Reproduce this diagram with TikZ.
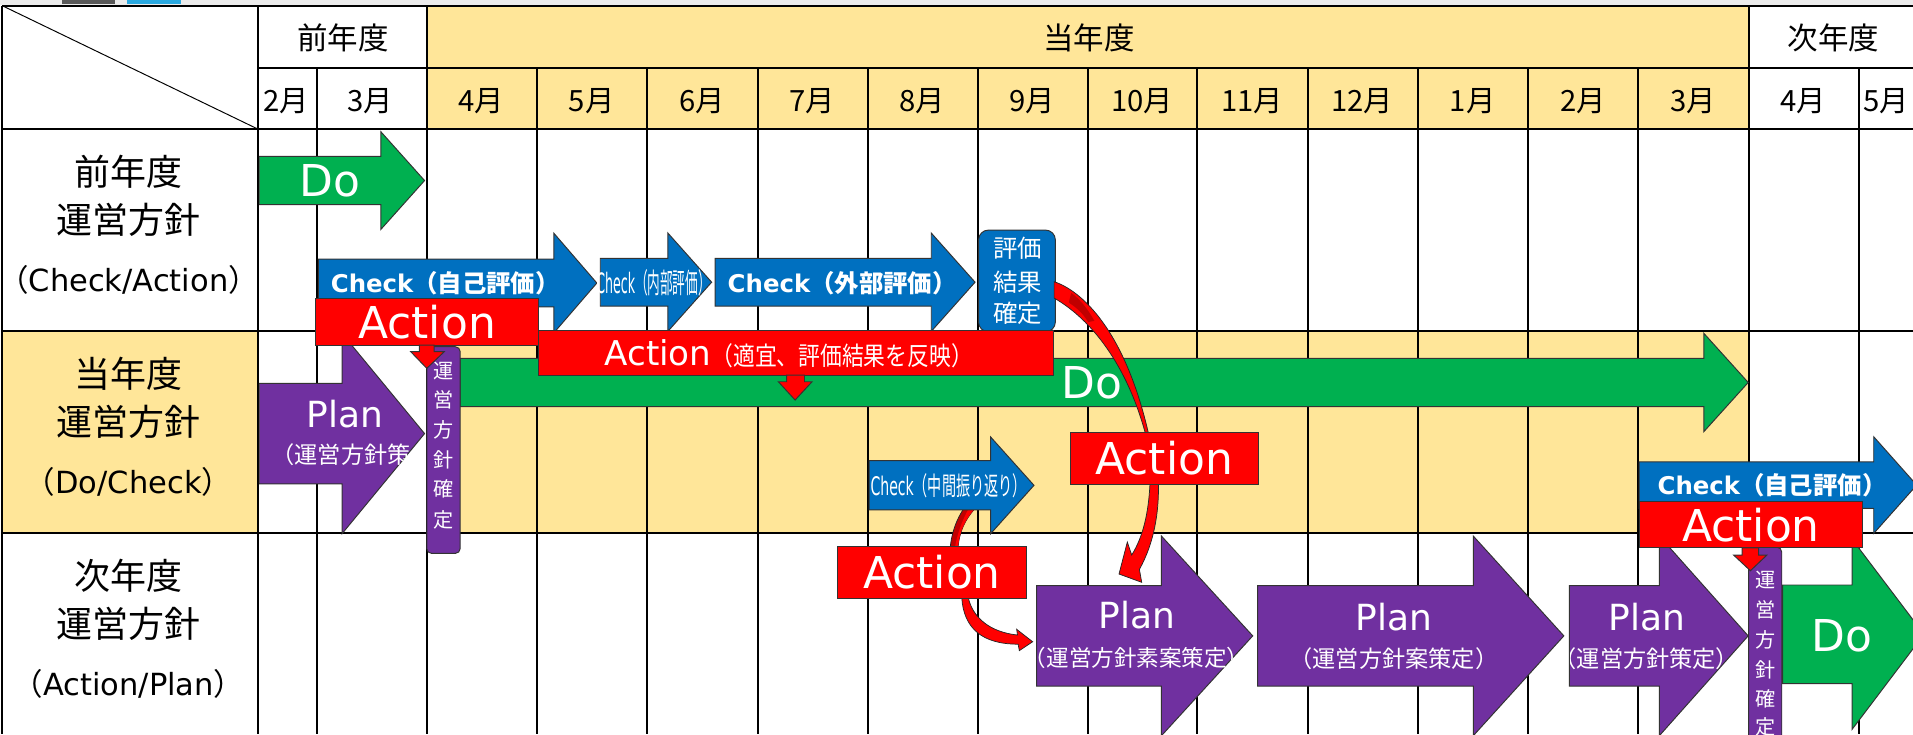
\documentclass[tikz,border=0pt]{standalone}
\usepackage{fontspec}
\usepackage{graphicx}
\setmainfont{Noto Sans CJK JP}
\newfontfamily\lat{DejaVu Sans}
\newfontfamily\jp{Noto Sans CJK JP}
\newcommand\fs[1]{\fontsize{#1}{#1}\selectfont}
\definecolor{cyel}{HTML}{FFE699}
\definecolor{cgreen}{HTML}{00B050}
\definecolor{cblue}{HTML}{0070C0}
\definecolor{cred}{HTML}{FF0000}
\definecolor{cpur}{HTML}{7030A0}
\definecolor{cdred}{HTML}{C00000}
\definecolor{cgray}{HTML}{EBEBEB}
\definecolor{cdgray}{HTML}{595959}
\definecolor{csky}{HTML}{29A9E1}
% right block arrow: x1, x2 (head start), tip x, centre y, body half height, head half height
\def\arw#1#2#3#4#5#6{(#1,{#4-#5}) -- (#2,{#4-#5}) -- (#2,{#4-#6}) -- (#3,#4) -- (#2,{#4+#6}) -- (#2,{#4+#5}) -- (#1,{#4+#5}) -- cycle}
\begin{document}
\begin{tikzpicture}[x=1pt,y=-1pt,
  grid/.style={line width=1.6pt,black},
  shp/.style={draw=black!80,line width=0.8pt},
  rib/.style={draw=black!85,line width=0.6pt},
  wt/.style={inner sep=0pt,outer sep=0pt,text=white},
  bt/.style={inner sep=0pt,outer sep=0pt,text=black},
  redbox/.style={shp,fill=cred,inner sep=0pt,outer sep=0pt,text=white,font={\fs{36}\lat}},
  bigw/.style={wt,font={\fs{36}\lat}},
  planw/.style={wt,font={\fs{29.5}\lat}},
  subw/.style={wt,font={\fs{19}}},
  ckw/.style={wt,font={\bfseries\fs{20}}},
  hdr/.style={bt,font={\fs{25}}},
  mon/.style={bt,font={\fs{24}}},
  rowj/.style={bt,font={\fs{29.5}}},
  rowl/.style={bt,font={\fs{25}}},
  vtx/.style={wt,font={\fs{16.5}}},
  ]
\useasboundingbox (0,0) rectangle (1568,602);
\begin{scope}
\clip (0,0) rectangle (1568,602);
% top strip
\fill[cgray] (0,0) rectangle (1568,3.8);
\fill[cdgray] (50.6,0) rectangle (94.3,3.6);
\fill[csky] (104.4,0) rectangle (148.4,3.6);
% yellow areas
\fill[cyel] (350,4.5) rectangle (1433.6,106);
\fill[cyel] (1.7,271) rectangle (211.8,437.2);
\fill[cyel] (350,271) rectangle (1433.6,437.2);
% grid
\draw[grid] (1.7,4.6) -- (1568,4.6);
\draw[grid] (211.8,55.5) -- (1568,55.5);
\draw[grid] (1.7,106) -- (1568,106);
\draw[grid] (1.7,271) -- (1568,271);
\draw[grid] (1.7,437.2) -- (1568,437.2);
\foreach \gx in {1.7,211.8,350,1433.6} \draw[grid] (\gx,4.6) -- (\gx,602);
\foreach \gx in {259.7,440,530.6,621,711.3,801.4,891.4,981.4,1072,1162.2,1252.7,1342.8,1523.7} \draw[grid] (\gx,55.5) -- (\gx,602);
\draw[line width=0.8pt] (1.7,4.6) -- (211.8,106);
% header texts
\node[hdr] (hprev) at (281,31) {前年度};
\node[hdr] (hcur) at (892.5,31) {当年度};
\node[hdr] (hnext) at (1503,31) {次年度};
\foreach \mx/\mt [count=\i] in {234.5/2,303.5/3,394.5/4,485/5,575.5/6,665.5/7,755.8/8,846/9,936/10,1026.5/11,1116.5/12,1207/1,1297.5/2,1388/3,1478/4,1546/5}
  \node[mon] (mon\i) at (\mx,83) {\mt 月};
% row labels
\node[rowj] (r1a) at (105.4,141) {前年度};
\node[rowj] (r1b) at (105.4,180.4) {運営方針};
\node[rowl] (r1c) at (105.4,229.6) {（{\lat Check/Action}）};
\node[rowj] (r2a) at (105.4,306.7) {当年度};
\node[rowj] (r2b) at (105.4,345.7) {運営方針};
\node[rowl] (r2c) at (105.4,394.9) {（{\lat Do/Check}）};
\node[rowj] (r3a) at (105.4,472) {次年度};
\node[rowj] (r3b) at (105.4,511) {運営方針};
\node[rowl] (r3c) at (105.4,560.2) {（{\lat Action/Plan}）};
% ---- row 1 ----
\path[shp,fill=cgreen] \arw{212.5}{312.2}{348}{148}{19.8}{40};
\node[bigw] (doA) at (270.5,148.2) {Do};
\path[shp,fill=cblue] \arw{261}{454}{489.2}{232}{19.6}{40.8};
\node[ckw] (ckA) at (365,232) {{\lat Check}（自己評価）};
\path[shp,fill=cblue] \arw{492}{547.4}{583.3}{231.3}{19.6}{40.3};
\node[wt] (ckB) at (535.7,231.5) {\scalebox{0.45}[1]{\fs{23}{\lat Check}（内部評価）}};
\path[shp,fill=cblue] \arw{586.2}{763.3}{799.2}{231.3}{19.6}{40.3};
\node[ckw] (ckC) at (690.3,231.8) {{\lat Check}（外部評価）};
\node[shp,fill=cblue,rounded corners=8pt,minimum width=62.9pt,minimum height=83.4pt,inner sep=0pt] (eval) at (833.55,230.3) {};
\node[wt,font={\fs{20}}] (ev1) at (834,203.6) {評価};
\node[wt,font={\fs{20}}] (ev2) at (834,231) {結果};
\node[wt,font={\fs{20}}] (ev3) at (834,257) {確定};
% ---- row 2 ----
\path[shp,fill=cgreen] \arw{377.2}{1396.5}{1432.9}{313.5}{19.85}{40.35};
\node[bigw] (doB) at (894.8,313.5) {Do};
\path[shp,fill=cpur] \arw{212.5}{280.4}{348}{355.4}{41.2}{82};
\node[planw] (plA) at (282.7,339.8) {Plan};
\begin{scope}
\clip \arw{212.5}{280.4}{348}{355.4}{41.2}{82};
\node[subw,anchor=west] (plAs) at (222.5,373) {（運営方針策};
\end{scope}
\node[shp,fill=cpur,rounded corners=4pt,minimum width=27.4pt,minimum height=169.4pt,inner sep=0pt] (kA) at (363.5,368.9) {};
\foreach \c/\yy [count=\i] in {運/304,営/328,方/352.5,針/377,確/400.5,定/426}
  \node[vtx] (ka\i) at (363.5,\yy) {\c};
\node[redbox,minimum width=421.9pt,minimum height=36.9pt] (actB) at (652.25,288.95) {};
\node[wt,anchor=base west,font={\fs{28}\lat}] (actBt) at (495.5,299.2) {Action\scalebox{0.85}[1]{\fs{21}\jp（適宜、評価結果を反映）}};
\path[shp,fill=cred] (644.7,307.4) -- (659.4,307.4) -- (659.4,312.9) -- (665.6,312.9) -- (651.7,327.9) -- (638,312.9) -- (644.7,312.9) -- cycle;
\node[redbox,minimum width=182.5pt,minimum height=37.8pt] (actA) at (350.05,263.9) {Action};
\path[shp,fill=cred] (343.8,282.8) -- (355.8,282.8) -- (355.8,288.3) -- (364.1,288.3) -- (349.8,301.9) -- (336.7,288.3) -- (343.8,288.3) -- cycle;
% curved arrow from evaluation box
\path[rib,fill=cred] (864,230.9) .. controls (886,238) and (922,270) .. (941.5,356) -- (939,356) .. controls (924,300) and (895,262) .. (864,244.3) -- cycle;
\fill[cdred] (878,240) .. controls (886,246) and (892,254) .. (897,263) -- (892,264) .. controls (887,256) and (882,252) .. (876,248) -- cycle;
% curved arrow from middle check to action
\path[rib,fill=cdred] (790,416.7) .. controls (784,426) and (780,436) .. (778.7,450) -- (785.2,450) .. controls (786,436) and (791,426) .. (799.2,416.7) -- cycle;
\fill[cred] (794,416.7) .. controls (788,428) and (784.5,438) .. (782.5,450) -- (785.2,450) .. controls (786,436) and (791,426) .. (799.2,416.7) -- cycle;
\path[shp,fill=cblue] \arw{712.4}{812}{847.5}{397.8}{20.2}{39.6};
\node[wt] (ckD) at (777.5,398) {\scalebox{0.55}[1]{\fs{21}{\lat Check}（中間振り返り）}};
% curved arrow from action (row 2) to plan
\path[rib,fill=cred] (942.6,396) .. controls (941.5,420) and (937,440) .. (927.6,454.9) -- (924,444.3) -- (917.2,470.5) -- (935.8,477.3) -- (933.9,466.7) .. controls (946,445) and (950,420) .. (949.5,396) -- cycle;
\node[redbox,minimum width=154.4pt,minimum height=42.4pt] (actC) at (954.3,375.6) {Action};
% ---- row 3 ----
\path[rib,fill=cred] (788.3,490) .. controls (790,515) and (805,528) .. (834.5,528) -- (835.5,533.3) -- (846.4,526) -- (833.3,515.8) -- (834,520.5) .. controls (810,518) and (797,505) .. (793.7,490) -- cycle;
\node[redbox,minimum width=154.7pt,minimum height=42.3pt] (actD) at (763.85,469.35) {Action};
\path[shp,fill=cpur] \arw{849.6}{952}{1026.8}{521.2}{41.2}{81.8};
\node[planw] (pl1) at (931.7,504.5) {Plan};
\begin{scope}
\clip \arw{849.6}{952}{1026.8}{521.2}{41.2}{81.8};
\node[wt,font={\fs{18.5}}] (pl1s) at (931.7,539) {（運営方針素案策定）};
\end{scope}
\path[shp,fill=cpur] \arw{1030.8}{1207.6}{1281.8}{521.2}{41.2}{81.8};
\node[planw] (pl2) at (1142.5,505.5) {Plan};
\node[subw] (pl2s) at (1142.5,539.7) {（運営方針案策定）};
\path[shp,fill=cpur] \arw{1286.3}{1360.1}{1432.9}{521.2}{41.2}{81.8};
\node[planw] (pl3) at (1349.7,505.5) {Plan};
\begin{scope}
\clip \arw{1286.3}{1360.1}{1432.9}{521.2}{41.2}{81.8};
\node[subw] (pl3s) at (1349.5,539.7) {（運営方針策定）};
\end{scope}
\path[shp,fill=cblue] \arw{1343.5}{1535.8}{1571}{397.6}{19.1}{39.6};
\node[ckw] (ckE) at (1452.5,397.6) {{\lat Check}（自己評価）};
\path[shp,fill=cgreen] \arw{1461.2}{1518}{1577}{519.9}{40.4}{78};
\node[bigw] (doC) at (1510,521.2) {Do};
\node[shp,fill=cpur,rounded corners=4pt,minimum width=27.1pt,minimum height=191.5pt,inner sep=0pt] (kB) at (1446.85,544.25) {};
\foreach \c/\yy [count=\i] in {運/475.5,営/500,方/524.7,針/549.3,確/572.5,定/595.7}
  \node[vtx] (kb\i) at (1447,\yy) {\c};
\node[redbox,minimum width=182pt,minimum height=37.7pt] (actE) at (1435.2,430.15) {Action};
\path[shp,fill=cred] (1428,449) -- (1441.5,449) -- (1441.5,455) -- (1448.2,455) -- (1434.7,467.8) -- (1421,455) -- (1428,455) -- cycle;
\end{scope}
\end{tikzpicture}
\end{document}
